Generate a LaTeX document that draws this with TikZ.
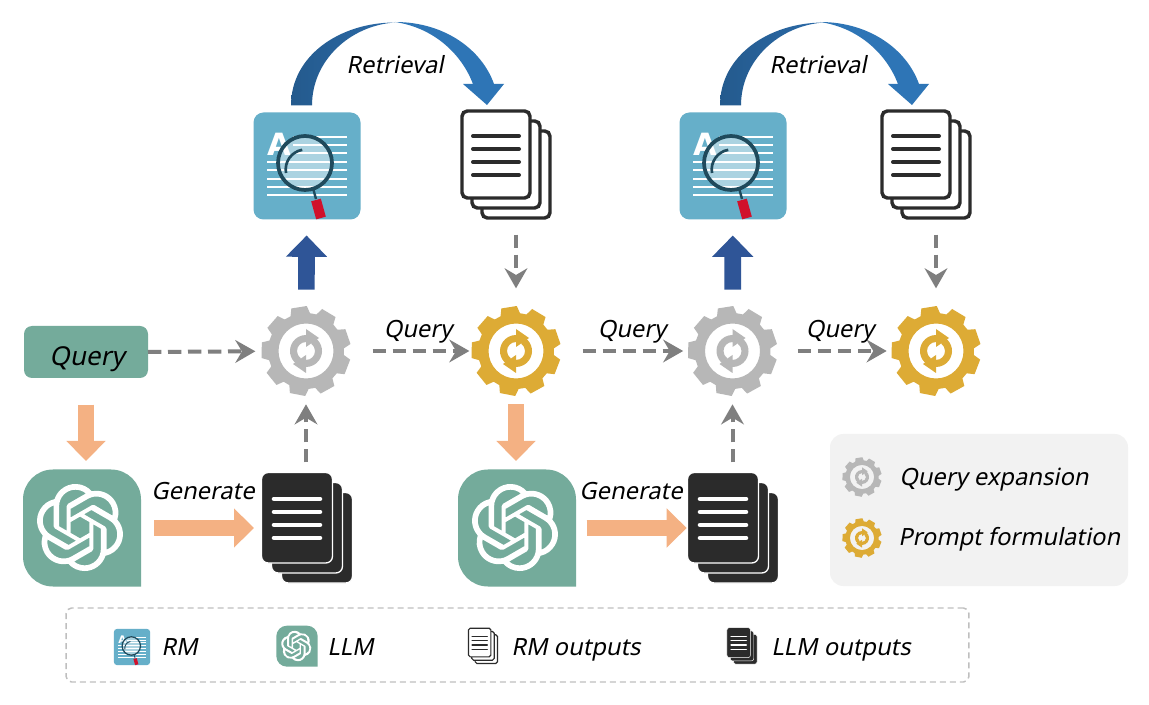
\documentclass[tikz,border=0pt]{standalone}
\usepackage{fontspec}
\setmainfont{Noto Sans}[FakeSlant=0.2]
\newfontfamily\plainfont{DejaVu Sans}
\usetikzlibrary{arrows.meta,calc,svg.path}
\definecolor{cardblue}{HTML}{66AFC9}
\definecolor{lensdark}{HTML}{1F4A5C}
\definecolor{gptgreen}{HTML}{74AB9B}
\definecolor{geargray}{HTML}{B7B7B7}
\definecolor{gearyellow}{HTML}{DDAB35}
\definecolor{dashgray}{HTML}{7F7F7F}
\definecolor{softorange}{HTML}{F4B183}
\definecolor{upblue}{HTML}{2F5597}
\definecolor{arcdark}{HTML}{245A8D}
\definecolor{arcmid}{HTML}{2B6AA8}
\definecolor{arclight}{HTML}{2E75B6}
\definecolor{pagedark}{HTML}{2B2B2B}
\definecolor{handlered}{HTML}{D0112B}
\tikzset{
  lwk/.store in=\lwk, lwk=1,
  holder/.style={inner sep=0pt, outer sep=0pt},
  gearnode/.style={holder, circle, minimum size=68pt},
  dashflow/.style={draw=dashgray, line width=3pt, dash pattern=on 10pt off 5pt,
    -{Stealth[length=15pt,width=17pt,inset=5pt]}},
  softflow/.style={draw=softorange, line width=12.5pt, -{Triangle[length=15pt,width=28.5pt]}},
  upflow/.style={draw=upblue, line width=12.5pt, -{Triangle[length=16pt,width=30pt]}},
  lbl/.style={font=\fontsize{17.8pt}{20pt}\selectfont, inner sep=0pt, anchor=base},
  pics/gearicon/.style={code={
    \fill[#1, even odd rule] (261-15:38)
      \foreach \t in {261,301,...,581} { -- (\t-15:38) -- (\t-10:45) -- (\t+10:45) -- (\t+15:38) } -- cycle
      (0,0) circle (27.5);
    \foreach \k in {1,-1} {
      \fill[#1, xscale=\k, yscale=\k] (125:16) arc [start angle=125, end angle=270, radius=16]
        -- (0,-22) -- (13,-13) -- (0,-4) -- (0,-9) arc [start angle=270, end angle=125, radius=9] -- cycle;
    }
  }},
  pics/rmicon/.style={code={
    \fill[cardblue] (-53.5,-43.5) arc [start angle=180, end angle=270, radius=10] -- (43.5,-53.5)
      arc [start angle=270, end angle=360, radius=10] -- (53.5,43.5)
      arc [start angle=0, end angle=90, radius=10] -- (-43.5,53.5)
      arc [start angle=90, end angle=180, radius=10] -- cycle;
    \foreach \y in {-29,-21,-13} { \draw[white, line width=\lwk*1.5pt] (-14,\y) -- (40,\y); }
    \foreach \y in {-4,4,12.7,21,29} { \draw[white, line width=\lwk*1.5pt] (-40,\y) -- (40,\y); }
    \node[holder, white, transform shape, font=\plainfont\bfseries\fontsize{23pt}{23pt}\selectfont] (letter) at (-28,-22) {A};
    \fill[white, opacity=.45] (-2,-3) circle (27);
    \draw[lensdark, line width=\lwk*2.8pt] (-2,-3) circle (27);
    \draw[lensdark, line width=\lwk*2pt] (-21,7) arc [start angle=170, end angle=260, radius=20];
    \draw[lensdark, line width=\lwk*1.8pt] (6,22) -- (9,33);
    \draw[handlered, line width=\lwk*7.5pt] (9,34) -- (14,52);
  }},
  pics/docstack/.style 2 args={code={
    \foreach \d in {20,10,0} {
      \draw[#1, fill=#2, line width=\lwk*2.6pt, rounded corners=\lwk*4pt]
        (-44+\d,-54+\d) rectangle (24+\d,33+\d);
    }
    \foreach \y in {-29,-16,-3,10} {
      \draw[#1, line width=\lwk*3pt, line cap=round] (-33,\y) -- (13,\y);
    }
  }},
  pics/darkstack/.style={code={
    \foreach \d in {20,10,0} {
      \draw[white, fill=pagedark, line width=\lwk*1pt, rounded corners=\lwk*5pt]
        (-45.5+\d,-55.5+\d) rectangle (25.5+\d,35+\d);
    }
    \foreach \y in {-29,-16,-3,10} {
      \draw[white, line width=\lwk*3.4pt, line cap=round] (-33,\y) -- (13,\y);
    }
  }},
  pics/gpticon/.style={code={
    \fill[gptgreen] (-59,-28) arc [start angle=180, end angle=270, radius=30] -- (29,-58)
      arc [start angle=270, end angle=360, radius=30] -- (59,59) -- (-29,59)
      arc [start angle=90, end angle=180, radius=30] -- cycle;
    \fill[white, shift={(-2,0)}, scale=2.72, yscale=-1, xshift=-12pt, yshift=-12pt] svg {
      M 22.2819 9.8211 a 5.9847 5.9847 0 0 0 -0.5157 -4.9108 a 6.0462 6.0462 0 0 0 -6.5098 -2.9
      A 6.0651 6.0651 0 0 0 4.9807 4.1818 a 5.9847 5.9847 0 0 0 -3.9977 2.9 a 6.0462 6.0462 0 0 0 0.7427 7.0966
      a 5.98 5.98 0 0 0 0.511 4.9107 a 6.051 6.051 0 0 0 6.5146 2.9001 A 5.9847 5.9847 0 0 0 13.2599 24
      a 6.0557 6.0557 0 0 0 5.7718 -4.2058 a 5.9894 5.9894 0 0 0 3.9977 -2.9001 a 6.0557 6.0557 0 0 0 -0.7475 -7.0729 z
      M 13.2599 22.4292 a 4.4755 4.4755 0 0 1 -2.8764 -1.0408 l 0.1419 -0.0804 l 4.7783 -2.7582
      a 0.7948 0.7948 0 0 0 0.3927 -0.6813 v -6.7369 l 2.02 1.1686 a 0.071 0.071 0 0 1 0.038 0.052 v 5.5826
      a 4.504 4.504 0 0 1 -4.4945 4.4944 z
      M 3.5992 18.3038 a 4.4708 4.4708 0 0 1 -0.5346 -3.0137 l 0.142 0.0852 l 4.783 2.7582
      a 0.7712 0.7712 0 0 0 0.7806 0 l 5.8428 -3.3685 v 2.3324 a 0.0804 0.0804 0 0 1 -0.0332 0.0615
      L 9.74 19.9502 a 4.4992 4.4992 0 0 1 -6.1408 -1.6464 z
      M 2.3408 7.8956 a 4.485 4.485 0 0 1 2.3655 -1.9728 V 11.6 a 0.7664 0.7664 0 0 0 0.3879 0.6765
      l 5.8144 3.3543 l -2.0201 1.1685 a 0.0757 0.0757 0 0 1 -0.071 0 l -4.8303 -2.7865
      A 4.504 4.504 0 0 1 2.3408 7.872 z
      M 18.9371 11.7514 L 13.1038 8.364 L 15.1192 7.2 a 0.0757 0.0757 0 0 1 0.071 0 l 4.8303 2.7913
      a 4.4944 4.4944 0 0 1 -0.6765 8.1042 v -5.6772 a 0.79 0.79 0 0 0 -0.407 -0.667 z
      M 20.9478 8.7283 l -0.142 -0.0852 l -4.7735 -2.7818 a 0.7759 0.7759 0 0 0 -0.7854 0
      L 9.409 9.2297 V 6.8974 a 0.0662 0.0662 0 0 1 0.0284 -0.0615 l 4.8303 -2.7866
      a 4.4992 4.4992 0 0 1 6.6802 4.66 z
      M 8.3065 12.863 l -2.02 -1.1638 a 0.0804 0.0804 0 0 1 -0.038 -0.0567 V 6.0742
      a 4.4992 4.4992 0 0 1 7.3757 -3.4537 l -0.142 0.0805 L 8.704 5.459
      a 0.7948 0.7948 0 0 0 -0.3927 0.6813 z
      M 9.4041 10.4976 l 2.602 -1.4998 l 2.6069 1.4998 v 2.9994 l -2.5974 1.4997 l -2.6067 -1.4997 z};
  }},
  pics/arcout/.style={code={
    \shade[left color=arcdark, right color=arcmid] (-16,-7) .. controls (-16,-57) and (33,-90) .. (88,-90)
      .. controls (43,-87) and (5,-52) .. (5,-7) -- cycle;
  }},
  pics/arcin/.style={code={
    \fill[arclight] (-111,-88) .. controls (-61,-88) and (-24,-60) .. (-12,-26)
      -- (-2,-26) -- (-19,-5) -- (-43,-26) -- (-33,-26) .. controls (-44,-55) and (-71,-82) .. (-111,-88) -- cycle;
  }}
}
\begin{document}
\begin{tikzpicture}[x=0.75pt,y=-0.75pt]
\useasboundingbox (0,0) rectangle (1149,705);
\fill[white] (0,0) rectangle (1149,705);

\node[holder, minimum width=80.25pt, minimum height=80.25pt] (rm1) at (307,166) {};
\node[holder, minimum width=80.25pt, minimum height=80.25pt] (rm2) at (733,166) {};
\node[holder, minimum width=67.5pt, minimum height=82.5pt] (docs1) at (506,165) {};
\node[holder, minimum width=67.5pt, minimum height=82.5pt] (docs2) at (926,165) {};
\node[holder, minimum width=67.5pt, minimum height=82.5pt] (dark1) at (307,528) {};
\node[holder, minimum width=67.5pt, minimum height=82.5pt] (dark2) at (733,528) {};
\node[holder, minimum width=88.5pt, minimum height=87.75pt] (gpt1) at (82,527.5) {};
\node[holder, minimum width=88.5pt, minimum height=87.75pt] (gpt2) at (517,527.5) {};
\node[gearnode] (gear1) at (306,351) {};
\node[gearnode] (gear2) at (516,351) {};
\node[gearnode] (gear3) at (732.5,351) {};
\node[gearnode] (gear4) at (936,351) {};
\node[rounded corners=6pt, fill=gptgreen, minimum width=93pt, minimum height=39pt, holder] (query) at (86,352) {};
\node[lbl, font=\fontsize{19.5pt}{22pt}\selectfont] (querytext) at (87,366) {Query};

\foreach \n in {rm1,rm2} { \pic at (\n) {rmicon}; }
\foreach \n in {docs1,docs2} { \pic at (\n) {docstack={pagedark}{white}}; }
\foreach \n in {dark1,dark2} { \pic at (\n) {darkstack}; }
\foreach \n in {gpt1,gpt2} { \pic at (\n) {gpticon}; }
\foreach \n in {gear1,gear3} { \pic at (\n) {gearicon=geargray}; }
\foreach \n in {gear2,gear4} { \pic at (\n) {gearicon=gearyellow}; }

\pic at (rm1.north) {arcout};
\pic at (docs1.north) {arcin};
\pic at ([xshift=2.25pt]rm2.north) {arcout};
\pic at ([xshift=3.75pt]docs2.north) {arcin};
\node[lbl] (ret1) at (395,73.5) {Retrieval};
\node[lbl] (ret2) at (818,73.5) {Retrieval};

\draw[dashflow, shorten >=4pt] (query.east) -- (gear1);
\draw[dashflow, shorten <=16pt, shorten >=1pt] (gear1) -- (gear2);
\draw[dashflow, shorten <=16pt, shorten >=3pt] (gear2) -- (gear3);
\draw[dashflow, shorten <=15pt, shorten >=3pt] (gear3) -- (gear4);
\draw[dashflow, shorten <=8pt, shorten >=6pt] (dark1.north -| gear1) -- (gear1);
\draw[dashflow, shorten <=8pt, shorten >=6pt] (dark2.north -| gear3) -- (gear3);
\draw[dashflow, shorten <=11pt, shorten >=13pt] (docs1.south -| gear2) -- (gear2);
\draw[dashflow, shorten <=11pt, shorten >=13pt] (docs2.south -| gear4) -- (gear4);
\node[lbl] (q1) at (418,338) {Query};
\node[lbl] (q2) at (632,338) {Query};
\node[lbl] (q3) at (840,338) {Query};

\draw[upflow, shorten <=12pt, shorten >=12pt] (gear1) -- (rm1);
\draw[upflow, shorten <=12pt, shorten >=12pt] (gear3) -- (rm2);

\draw[softflow, shorten <=20pt, shorten >=6pt] (query.south) -- (query.south |- gpt1.north);
\draw[softflow, shorten <=6pt, shorten >=6pt] (gear2) -- (gear2 |- gpt2.north);
\draw[softflow, shorten <=10pt, shorten >=6pt] (gpt1.east |- dark1) -- (dark1.west);
\draw[softflow, shorten <=8pt, shorten >=1pt] (gpt2.east |- dark2) -- (dark2.west);
\node[lbl] (gen1) at (203,499) {Generate};
\node[lbl] (gen2) at (631,499) {Generate};

% legends
\node[holder, rounded corners=10pt, fill=black!5, minimum width=223.5pt, minimum height=114pt] (gearlegend) at (979,510) {};
\pic[scale=.44] at (862,477) {gearicon=geargray};
\pic[scale=.44] at (862,538) {gearicon=gearyellow};
\node[lbl, anchor=base west] (qexp) at (899,485) {Query expansion};
\node[lbl, anchor=base west] (pform) at (898,545) {Prompt formulation};

\node[holder, draw=black!25, line width=1.1pt, dash pattern=on 4.5pt off 3pt, rounded corners=4pt,
  minimum width=677pt, minimum height=55.5pt] (iconlegend) at (517.5,645) {};
\pic[scale=.34, lwk=.34] at (132,647) {rmicon};
\pic[scale=.35, lwk=.35] at (297,646) {gpticon};
\pic[scale=.33, lwk=.33] at (483,646) {docstack={pagedark}{white}};
\pic[scale=.33, lwk=.33] at (742,646) {darkstack};
\node[lbl, anchor=base west] (lrm) at (161,655) {RM};
\node[lbl, anchor=base west] (lllm) at (327,655) {LLM};
\node[lbl, anchor=base west] (lrmo) at (511,655) {RM outputs};
\node[lbl, anchor=base west] (lllmo) at (771,655) {LLM outputs};
\end{tikzpicture}
\end{document}
